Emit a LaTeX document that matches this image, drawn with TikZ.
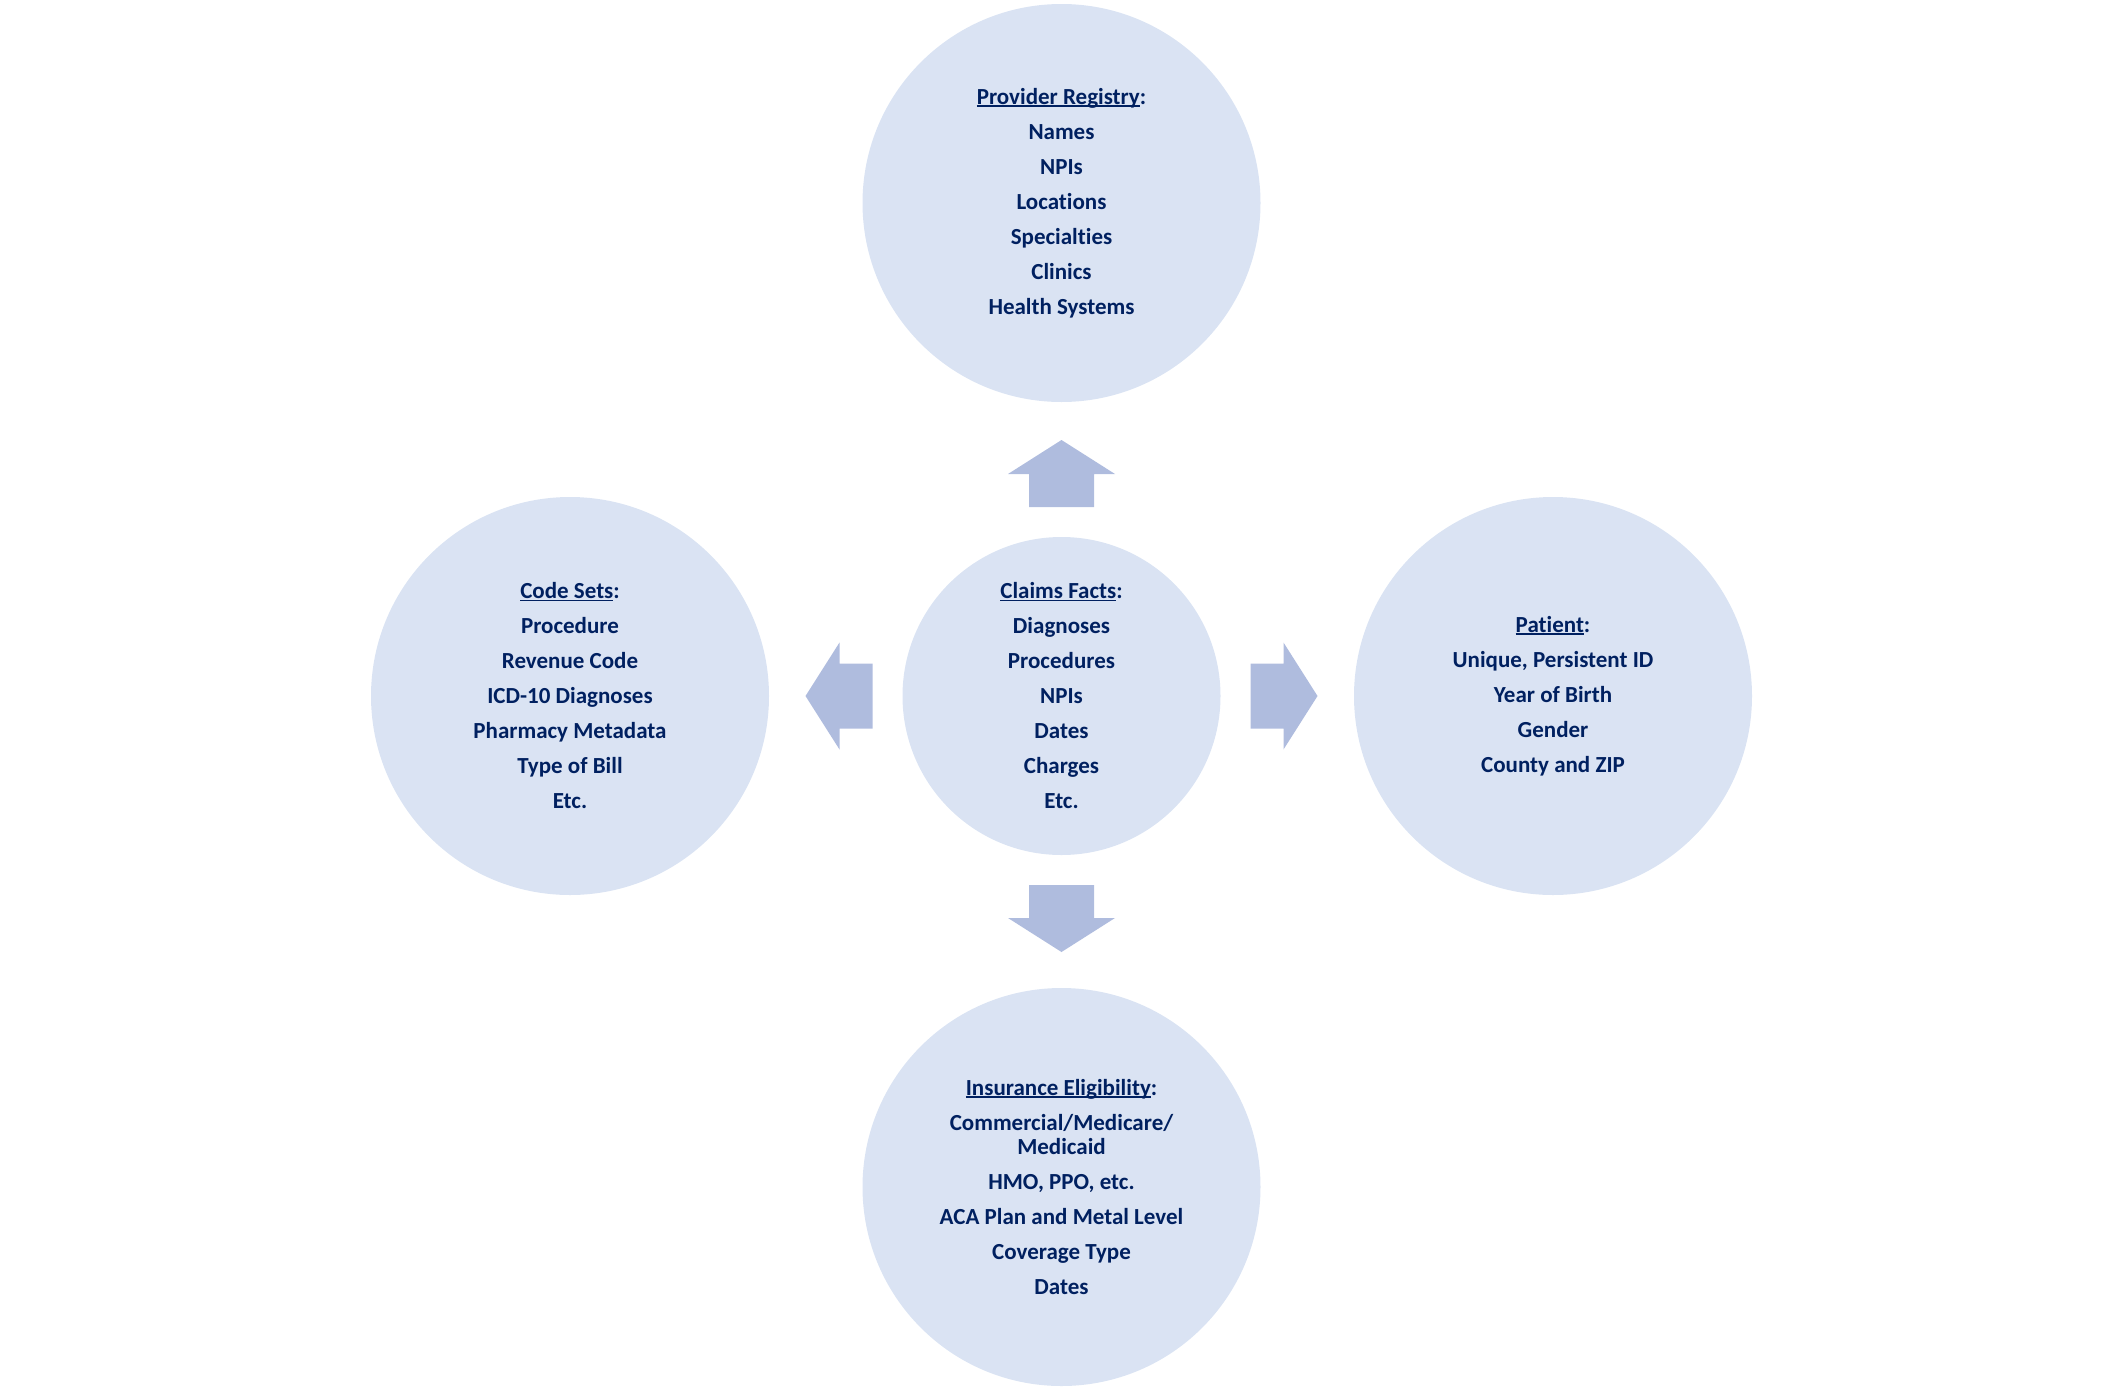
\documentclass[tikz,border=0pt]{standalone}
\usepackage{fontspec}
\setmainfont{Carlito}[Ligatures=NoCommon]
\definecolor{circfill}{RGB}{218,227,243}
\definecolor{arrfill}{RGB}{175,188,222}
\definecolor{txtblue}{RGB}{0,32,96}
\newcommand\ulword[1]{\setbox0\hbox{#1}\rlap{\rule[-2.5pt]{\wd0}{1.6pt}}\box0}
\tikzset{
  bubble/.style={circle, minimum size=398pt, inner sep=0pt, fill=circfill, text=txtblue,
    align=center, font=\bfseries\fontsize{23}{24.4}\selectfont},
  hub/.style={bubble, minimum size=318pt},
  blockarrow/.style={fill=arrfill}
}
\begin{document}
\begin{tikzpicture}[x=1pt,y=-1pt]
\useasboundingbox (0,0) rectangle (2123,1392);
\node[hub] (c) at (1061.5,696) {\ulword{Claims Facts}:\\[10.6pt] Diagnoses\\[10.6pt] Procedures\\[10.6pt] NPIs\\[10.6pt] Dates\\[10.6pt] Charges\\[10.6pt] Etc.};
\node[bubble] (t) at (1061.5,203) {\ulword{Provider Registry}:\\[10.6pt] Names\\[10.6pt] NPIs\\[10.6pt] Locations\\[10.6pt] Specialties\\[10.6pt] Clinics\\[10.6pt] Health Systems};
\node[bubble] (l) at (570,696) {\ulword{Code Sets}:\\[10.6pt] Procedure\\[10.6pt] Revenue Code\\[10.6pt] ICD-10 Diagnoses\\[10.6pt] Pharmacy Metadata\\[10.6pt] Type of Bill\\[10.6pt] Etc.};
\node[bubble] (r) at (1553,696) {\ulword{Patient}:\\[10.6pt] Unique, Persistent ID\\[10.6pt] Year of Birth\\[10.6pt] Gender\\[10.6pt] County and ZIP};
\node[bubble] (b) at (1061.5,1187) {\ulword{Insurance Eligibility}:\\[10.6pt] Commercial/Medicare/\\ Medicaid\\[10.6pt] HMO, PPO, etc.\\[10.6pt] ACA Plan and Metal Level\\[10.6pt] Coverage Type\\[10.6pt] Dates};
\foreach \a in {0,90,180,270}
  \fill[blockarrow, shift={(c.center)}, rotate=\a]
    (189,-32.5) -- (222,-32.5) -- (222,-53.5) -- (256,0) -- (222,53.5) -- (222,32.5) -- (189,32.5) -- cycle;
\end{tikzpicture}
\end{document}
